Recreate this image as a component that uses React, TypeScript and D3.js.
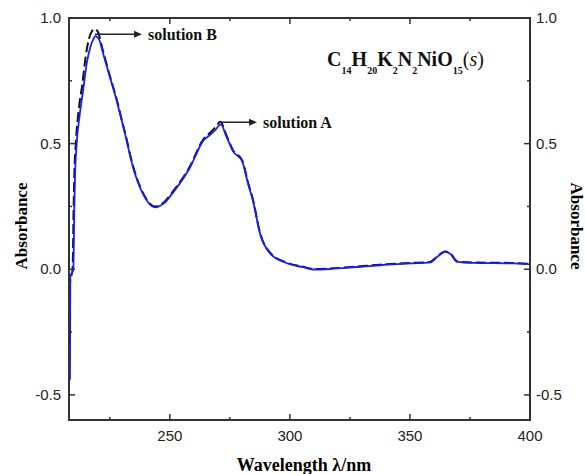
import React, { useEffect, useRef } from 'react';
import * as d3 from 'd3';

const svgWidth = 586;
const svgHeight = 474;
const margin = { left: 69, right: 56, top: 18, bottom: 54 };
const width = svgWidth - margin.left - margin.right;
const height = svgHeight - margin.top - margin.bottom;

// wavelength (nm), absorbance
const solutionA: [number, number][] = [
  [208.4, -0.44], [208.55, -0.03], [209.8, 0.0], [210.2, 0.23], [210.5, 0.365],
  [211.2, 0.5], [212.4, 0.61], [214.0, 0.72], [215.4, 0.82], [216.75, 0.88],
  [218.1, 0.915], [219.0, 0.928], [220.5, 0.915], [222.3, 0.856], [225.1, 0.763],
  [227.9, 0.67], [230, 0.59], [231.3, 0.54], [234.7, 0.405], [238.8, 0.3],
  [243.8, 0.246], [247.5, 0.262], [251.3, 0.305], [258.4, 0.405], [263.8, 0.51],
  [266.75, 0.535], [269, 0.555], [271.2, 0.577], [273.5, 0.53], [276.3, 0.47],
  [280.1, 0.43], [282.6, 0.34], [284.7, 0.27], [287.6, 0.14], [291.75, 0.063],
  [298.8, 0.024], [305.5, 0.008], [309.7, -0.001], [316.75, 0.001], [328, 0.009],
  [337.6, 0.016], [350, 0.023], [358.4, 0.027], [361.3, 0.049], [364.7, 0.069],
  [366.75, 0.062], [369.7, 0.029], [376.3, 0.025], [393, 0.023], [400, 0.019],
];

const solutionB: [number, number][] = [
  [208.3, -0.36], [208.45, -0.05], [209.5, 0.0], [209.9, 0.23], [210.2, 0.37],
  [210.9, 0.51], [212.0, 0.63], [213.6, 0.74], [215.0, 0.85], [216.4, 0.92],
  [217.6, 0.948], [218.6, 0.957], [220.0, 0.945], [222.0, 0.875], [225.0, 0.77],
  [227.9, 0.675], [230, 0.594], [231.3, 0.545], [234.7, 0.41], [238.8, 0.304],
  [243.8, 0.25], [247.5, 0.266], [251.3, 0.31], [258.4, 0.41], [263.8, 0.515],
  [266.75, 0.543], [269, 0.565], [271.0, 0.587], [273.5, 0.535], [276.3, 0.474],
  [280.1, 0.434], [282.6, 0.344], [284.7, 0.274], [287.6, 0.144], [291.75, 0.066],
  [298.8, 0.026], [305.5, 0.01], [309.7, 0.001], [316.75, 0.003], [328, 0.011],
  [337.6, 0.018], [350, 0.025], [358.4, 0.029], [361.3, 0.051], [364.7, 0.071],
  [366.75, 0.064], [369.7, 0.031], [376.3, 0.027], [393, 0.025], [400, 0.021],
];

const xTicks = [250, 300, 350, 400];
const xMinor = [225, 275, 325, 375];
const yTicks = [-0.5, 0.0, 0.5, 1.0];
const yMinor = [-0.25, 0.25, 0.75];

// arrow from peak to label: start nm, end nm, absorbance
const notes: { label: string; from: number; to: number; at: number }[] = [
  { label: 'solution B', from: 218.8, to: 238.4, at: 0.935 },
  { label: 'solution A', from: 271.2, to: 286.3, at: 0.585 },
];

const formulaParts: [string, string][] = [['C', '14'], ['H', '20'], ['K', '2'], ['N', '2'], ['NiO', '15']];

const serif = '"Liberation Serif", "Times New Roman", serif';
const sans = '"Liberation Sans", Arial, sans-serif';
const frameColor = '#333';

const translate = (x: number, y: number) => 'translate(' + x + ',' + y + ')';
const fmt = (v: number) => d3.format('.1f')(v).replace('\u2212', '-');

export default function App() {
  const ref = useRef<SVGSVGElement>(null);

  useEffect(() => {
    const svg = d3.select(ref.current);
    svg.selectAll('*').remove();

    const x = d3.scaleLinear().domain([208, 400]).range([0, width]);
    const y = d3.scaleLinear().domain([-0.6, 1.0]).range([height, 0]);

    const chart = svg.append('g').attr('transform', translate(margin.left, margin.top));

    const line = d3.line<[number, number]>()
      .x(d => x(d[0]))
      .y(d => y(d[1]))
      .curve(d3.curveMonotoneX);

    // solution B (black dashed) underneath, solution A (blue) on top
    chart.append('path')
      .datum(solutionB)
      .attr('d', line)
      .attr('fill', 'none')
      .attr('stroke', '#111')
      .attr('stroke-width', 2)
      .attr('stroke-dasharray', '10,4');

    chart.append('path')
      .datum(solutionA)
      .attr('d', line)
      .attr('fill', 'none')
      .attr('stroke', '#1c1cf0')
      .attr('stroke-width', 1.8);

    // frame
    chart.append('rect')
      .attr('width', width).attr('height', height)
      .attr('fill', 'none').attr('stroke', frameColor).attr('stroke-width', 2);

    const tickLen = 6;
    const minorLen = 3;
    const ticks = chart.append('g').attr('stroke', frameColor).attr('stroke-width', 1.5);

    xTicks.concat(xMinor).forEach(t => {
      const len = xTicks.includes(t) ? tickLen : minorLen;
      ticks.append('line').attr('x1', x(t)).attr('x2', x(t)).attr('y1', height).attr('y2', height - len);
      ticks.append('line').attr('x1', x(t)).attr('x2', x(t)).attr('y1', 0).attr('y2', len);
    });
    yTicks.concat(yMinor).forEach(t => {
      const len = yTicks.includes(t) ? tickLen : minorLen;
      ticks.append('line').attr('x1', 0).attr('x2', len).attr('y1', y(t)).attr('y2', y(t));
      ticks.append('line').attr('x1', width).attr('x2', width - len).attr('y1', y(t)).attr('y2', y(t));
    });

    const labels = chart.append('g').attr('font-family', sans).attr('font-size', 15).attr('fill', '#222');
    xTicks.forEach(t => {
      labels.append('text').attr('x', x(t)).attr('y', height + 21)
        .attr('text-anchor', 'middle').text(t);
    });
    yTicks.forEach(t => {
      labels.append('text').attr('x', -8).attr('y', y(t) + 5)
        .attr('text-anchor', 'end').text(fmt(t));
      labels.append('text').attr('x', width + 6).attr('y', y(t) + 5)
        .attr('text-anchor', 'start').text(fmt(t));
    });

    // axis titles
    svg.append('text')
      .attr('transform', translate(27, 226) + ' rotate(-90)')
      .attr('text-anchor', 'middle')
      .attr('font-family', serif).attr('font-weight', 'bold').attr('font-size', 17)
      .text('Absorbance');
    svg.append('text')
      .attr('transform', translate(571, 226) + ' rotate(90)')
      .attr('text-anchor', 'middle')
      .attr('font-family', serif).attr('font-weight', 'bold').attr('font-size', 17)
      .text('Absorbance');
    svg.append('text')
      .attr('x', 304).attr('y', 471)
      .attr('text-anchor', 'middle')
      .attr('font-family', serif).attr('font-weight', 'bold').attr('font-size', 18)
      .text('Wavelength λ/nm');

    // peak annotations
    notes.forEach(n => {
      const x0 = x(n.from);
      const x1 = x(n.to);
      const yy = y(n.at);
      chart.append('line').attr('x1', x0).attr('x2', x1 - 4).attr('y1', yy).attr('y2', yy)
        .attr('stroke', '#222').attr('stroke-width', 1.5);
      chart.append('path')
        .attr('d', `M${x1},${yy} L${x1 - 8},${yy - 3.5} L${x1 - 8},${yy + 3.5} Z`)
        .attr('fill', '#222');
      chart.append('text').attr('x', x1 + 6).attr('y', yy + 6)
        .attr('font-family', serif).attr('font-weight', 'bold').attr('font-size', 16)
        .attr('fill', '#111').text(n.label);
    });

    // formula
    const base = y(0.81);
    const formula = chart.append('text')
      .attr('x', x(315.5)).attr('y', base)
      .attr('font-family', serif).attr('font-weight', 'bold').attr('font-size', 20)
      .attr('fill', '#111');
    formulaParts.forEach(([el, sub]) => {
      formula.append('tspan').attr('y', base).text(el);
      formula.append('tspan').attr('y', base + 8).attr('font-size', 10).text(sub);
    });
    formula.append('tspan').attr('y', base).attr('font-weight', 'normal').text('(');
    formula.append('tspan').attr('font-weight', 'normal').attr('font-style', 'italic').text('s');
    formula.append('tspan').attr('font-weight', 'normal').text(')');
  }, []);

  return (
    <svg
      ref={ref}
      width={svgWidth}
      height={svgHeight}
      style={{ position: 'absolute', left: 0, top: 0, background: '#fff' }}
    />
  );
}
